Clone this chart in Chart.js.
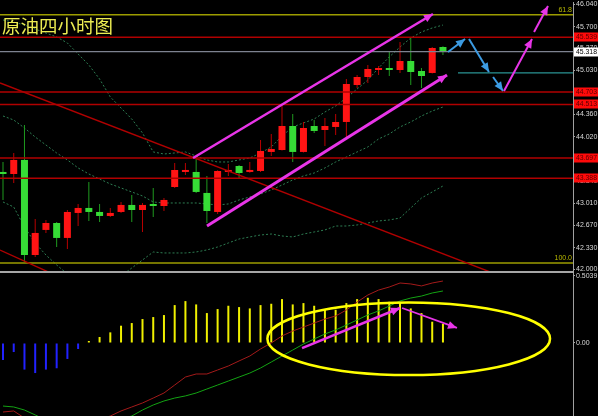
<!DOCTYPE html>
<html>
<head>
<meta charset="utf-8">
<title>原油四小时图</title>
<script src="https://cdn.jsdelivr.net/npm/chart.js@4.4.1/dist/chart.umd.min.js"></script>
<style>
  html, body { margin: 0; padding: 0; background: #000; }
  #wrap { position: relative; width: 598px; height: 416px; overflow: hidden; background: #000; }
  #mainChart { position: absolute; left: 0; top: 0; }
  #subChart { position: absolute; left: 0; top: 273px; }
  #sep { position: absolute; left: 0; top: 271px; width: 574px; height: 2px; background: #a6a6a6; }
</style>
</head>
<body>
<div id="wrap">
  <canvas id="mainChart" width="598" height="272"></canvas>
  <div id="sep"></div>
  <canvas id="subChart" width="598" height="143"></canvas>
</div>
<script>
// 4h crude oil candles, one entry per bar
const opens  = [43.484, 43.453, 43.667, 42.218, 42.600, 42.706, 42.478, 42.859, 42.935, 42.874, 42.813, 42.874, 42.981, 42.904,
                42.981, 42.965, 43.255, 43.484, 43.484, 43.164, 42.874, 43.484, 43.575, 43.484, 43.499, 43.789, 43.819, 44.185,
                43.789, 44.185, 44.124, 44.170, 44.246, 44.810, 44.932, 45.038, 45.054, 45.038, 45.176, 45.023, 44.993, 45.389];
const highs  = [43.636, 43.773, 44.200, 42.767, 42.752, 42.721, 42.904, 42.996, 43.331, 42.996, 42.935, 43.026, 43.133, 43.011,
                43.240, 43.087, 43.621, 43.621, 43.697, 43.423, 43.510, 43.606, 43.590, 43.636, 43.971, 44.063, 44.490, 44.368,
                44.246, 44.276, 44.307, 44.368, 44.901, 44.962, 45.115, 45.099, 45.313, 45.465, 45.526, 45.069, 45.389, 45.400];
const lows   = [43.057, 43.316, 42.112, 42.188, 42.554, 42.340, 42.310, 42.660, 42.737, 42.721, 42.798, 42.859, 42.721, 42.569,
                42.798, 42.889, 43.240, 43.438, 43.164, 42.706, 42.843, 43.423, 43.377, 43.470, 43.484, 43.727, 43.810, 43.636,
                43.780, 44.078, 43.880, 44.048, 44.017, 44.764, 44.840, 44.962, 44.947, 44.993, 44.810, 44.764, 44.985, 45.267];
const closes = [43.453, 43.667, 42.218, 42.554, 42.706, 42.478, 42.874, 42.935, 42.874, 42.813, 42.859, 42.981, 42.904, 42.981,
                42.965, 43.057, 43.514, 43.499, 43.179, 42.889, 43.499, 43.514, 43.468, 43.514, 43.804, 43.834, 44.185, 43.789,
                44.154, 44.109, 44.185, 44.246, 44.825, 44.932, 45.054, 45.054, 45.038, 45.176, 45.008, 44.947, 45.374, 45.318];

// bollinger bands
const bandUpper = [45.801, 45.770, 45.724, 45.663, 45.602, 45.542, 45.450, 45.282, 45.115, 44.901, 44.627, 44.459, 44.291, 44.078,
                   43.789, 43.758, 43.773, 43.789, 43.727, 43.667, 43.636, 43.636, 43.667, 43.697, 43.773, 43.865, 44.032, 44.170,
                   44.231, 44.291, 44.398, 44.490, 44.612, 44.749, 44.886, 45.069, 45.237, 45.389, 45.526, 45.618, 45.679, 45.724];
const bandMid   = [44.337, 44.276, 44.154, 44.017, 43.895, 43.773, 43.667, 43.545, 43.453, 43.377, 43.301, 43.240, 43.179, 43.118,
                   43.026, 43.011, 43.011, 43.011, 43.011, 42.996, 42.981, 42.996, 43.057, 43.103, 43.148, 43.209, 43.285, 43.362,
                   43.423, 43.468, 43.545, 43.636, 43.712, 43.789, 43.865, 43.987, 44.063, 44.170, 44.246, 44.337, 44.413, 44.474];
const bandLower = [43.026, 42.950, 42.645, 42.401, 42.218, 42.066, 41.929, 41.837, 41.776, 41.761, 41.807, 41.898, 42.020, 42.142,
                   42.264, 42.249, 42.249, 42.249, 42.264, 42.295, 42.340, 42.401, 42.462, 42.493, 42.523, 42.538, 42.508, 42.493,
                   42.538, 42.569, 42.600, 42.660, 42.660, 42.676, 42.706, 42.737, 42.752, 42.782, 42.935, 43.087, 43.179, 43.270];

// lower panel: histogram + two signal lines
const macdHist  = [-0.128, -0.068, -0.200, -0.226, -0.200, -0.190, -0.120, -0.045, 0.015, 0.045, 0.080, 0.130, 0.150, 0.180,
                   0.195, 0.210, 0.285, 0.315, 0.290, 0.225, 0.255, 0.280, 0.270, 0.260, 0.285, 0.295, 0.330, 0.290,
                   0.300, 0.280, 0.250, 0.250, 0.300, 0.330, 0.340, 0.330, 0.310, 0.300, 0.260, 0.225, 0.160, 0.145];
const macdRed   = [-0.519, -0.511, -0.564, -0.617, -0.654, -0.669, -0.669, -0.654, -0.624, -0.579, -0.549, -0.511, -0.481, -0.451,
                   -0.414, -0.376, -0.316, -0.256, -0.233, -0.233, -0.203, -0.173, -0.135, -0.098, -0.045, 0.000, 0.053, 0.090,
                   0.120, 0.150, 0.180, 0.203, 0.248, 0.308, 0.361, 0.398, 0.421, 0.451, 0.444, 0.429, 0.451, 0.466];
const macdGreen = [-0.474, -0.481, -0.504, -0.541, -0.579, -0.617, -0.639, -0.654, -0.639, -0.617, -0.594, -0.571, -0.549, -0.504,
                   -0.466, -0.436, -0.414, -0.398, -0.376, -0.346, -0.316, -0.286, -0.256, -0.226, -0.188, -0.143, -0.098, -0.053,
                   -0.008, 0.030, 0.068, 0.098, 0.135, 0.173, 0.211, 0.241, 0.278, 0.316, 0.338, 0.353, 0.376, 0.391];

// axis ticks
const priceTicks = [46.04, 45.70, 45.37, 45.03, 44.70, 44.36, 44.02, 43.69, 43.34, 43.01, 42.67, 42.33, 42.00];
const subTicks = [0.5039, 0];

// horizontal levels: fib 61.8 / 100.0, marked prices
const fibLevels = [45.882, 42.096];
const fibNames = ['61.8', '100.0'];
const redLevels = [45.539, 44.703, 44.513, 43.697, 43.388];
const lastPrice = 45.318;
const tealLevel = 44.995;
const tealStart = 42.4;

// drawn objects, in [bar index, price] pairs
const redTrend1 = [[-0.28, 44.840], [45.5, 41.953]];
const redTrend2 = [[-0.28, 42.293], [4.85, 41.913]];
const channelUpper = [[17.71, 43.697], [40.07, 45.892]];
const channelLower = [[19.01, 42.660], [41.38, 44.962]];
const blueArrows = [
  [[41.47, 45.313], [43.06, 45.511]],
  [[43.43, 45.511], [45.29, 45.008]],
  [[45.67, 44.932], [46.60, 44.718]]
];
const pinkArrows = [
  [[46.69, 44.718], [49.30, 45.511]],
  [[49.49, 45.618], [50.79, 46.014]]
];
const subArrows = [
  [[27.87, -0.038], [37.00, 0.263]],
  [[37.19, 0.263], [42.31, 0.113]]
];
// centre x, centre y, radius x (bars), radius y (value)
const subEllipse = [37.81, 0.032, 13.17, 0.273];

const chartTitle = '原油四小时图';

// ---------------------------------------------------------------
const X_MIN = -0.28, X_MAX = 53.12;
const FONT = '"Liberation Sans", Arial, sans-serif';
const idx = opens.map((_, i) => i);
const up = idx.map(i => closes[i] >= opens[i]);

Chart.defaults.font.family = FONT;

const pts = values => values.map((v, i) => ({ x: i, y: v }));
const seg = pairs => pairs.map(p => ({ x: p[0], y: p[1] }));
const hline = (v, from) => [{ x: from, y: v }, { x: X_MAX, y: v }];

function lineDs(data, color, width, extra) {
  return Object.assign({
    type: 'line', data,
    borderColor: color, backgroundColor: color, borderWidth: width,
    pointRadius: 0, tension: 0, fill: false
  }, extra || {});
}

const arrowHeads = {
  id: 'arrowHeads',
  afterDatasetsDraw(chart) {
    const ctx = chart.ctx;
    chart.data.datasets.forEach((ds, di) => {
      if (!ds.arrow) return;
      const p = chart.getDatasetMeta(di).data;
      const a = p[p.length - 2], b = p[p.length - 1];
      const ang = Math.atan2(b.y - a.y, b.x - a.x);
      const len = 9, w = 4;
      const bx = b.x - len * Math.cos(ang), by = b.y - len * Math.sin(ang);
      ctx.save();
      ctx.fillStyle = ds.borderColor;
      ctx.beginPath();
      ctx.moveTo(b.x, b.y);
      ctx.lineTo(bx + w * Math.sin(ang), by - w * Math.cos(ang));
      ctx.lineTo(bx - w * Math.sin(ang), by + w * Math.cos(ang));
      ctx.closePath();
      ctx.fill();
      ctx.restore();
    });
  }
};

const mainLabels = {
  id: 'mainLabels',
  afterDraw(chart) {
    const { ctx, chartArea, scales: { y } } = chart;
    ctx.save();
    // title
    ctx.font = '18.5px "Noto Sans CJK SC"';
    ctx.fillStyle = '#ecec52';
    ctx.textBaseline = 'middle';
    ctx.textAlign = 'left';
    ctx.fillText(chartTitle, 2, 26);
    // fib names
    ctx.font = '7px ' + FONT;
    ctx.fillStyle = '#b8b800';
    ctx.textAlign = 'right';
    ctx.textBaseline = 'bottom';
    fibLevels.forEach((v, k) => ctx.fillText(fibNames[k], chartArea.right - 1, y.getPixelForValue(v) - 1));
    // price boxes on the axis
    ctx.textAlign = 'left';
    ctx.textBaseline = 'middle';
    const left = chartArea.right + 1;
    const boxes = redLevels.map(v => [v, '#ff0a0a', '#5a0000']).concat([[lastPrice, '#ffffff', '#000000']]);
    boxes.forEach(([v, bg, fg]) => {
      const py = Math.round(y.getPixelForValue(v));
      ctx.fillStyle = bg;
      ctx.fillRect(left, py - 4.5, 25, 9);
      ctx.fillStyle = fg;
      ctx.fillText(v.toFixed(3), left + 2, py + 0.5, 21);
    });
    ctx.restore();
  }
};

const ellipsePlugin = {
  id: 'subEllipse',
  afterDatasetsDraw(chart) {
    const { ctx, scales: { x, y } } = chart;
    const cx = x.getPixelForValue(subEllipse[0]);
    const cy = y.getPixelForValue(subEllipse[1]);
    const rx = Math.abs(x.getPixelForValue(subEllipse[0] + subEllipse[2]) - cx);
    const ry = Math.abs(y.getPixelForValue(subEllipse[1] + subEllipse[3]) - cy);
    ctx.save();
    ctx.strokeStyle = '#ffff00';
    ctx.lineWidth = 2.5;
    ctx.beginPath();
    ctx.ellipse(cx, cy, rx, ry, 0, 0, Math.PI * 2);
    ctx.stroke();
    ctx.restore();
  }
};

function rightAxis(min, max, ticks, fmt) {
  return {
    position: 'right', min, max,
    afterBuildTicks: s => { s.ticks = ticks.map(v => ({ value: v })); },
    afterFit: s => { s.width = 25; s.paddingTop = 0; s.paddingBottom = 0; },
    ticks: { color: '#d8d8d8', font: { size: 7 }, padding: 1, autoSkip: false, callback: fmt },
    grid: { drawOnChartArea: false, tickLength: 2, color: '#a0a0a0' },
    border: { display: true, color: '#a0a0a0', width: 1 }
  };
}

const xAxis = { type: 'linear', min: X_MIN, max: X_MAX, display: false, offset: false, grid: { offset: false } };

const baseOptions = {
  responsive: false,
  devicePixelRatio: 1,
  animation: false,
  events: [],
  plugins: { legend: { display: false }, tooltip: { enabled: false } }
};

const levelColor = '#b00000';
const mainSets = [
  lineDs(pts(bandUpper), '#2d7d52', 1, { borderDash: [2, 2], order: 20 }),
  lineDs(pts(bandMid), '#2d7d52', 1, { borderDash: [2, 2], order: 20 }),
  lineDs(pts(bandLower), '#2d7d52', 1, { borderDash: [2, 2], order: 20 }),
  {
    type: 'bar', order: 15, grouped: false, barThickness: 1, inflateAmount: 0,
    data: idx.map(i => ({ x: i, y: [lows[i], highs[i]] })),
    backgroundColor: idx.map(i => up[i] ? '#b80000' : '#1f9a1f')
  },
  {
    type: 'bar', order: 14, grouped: false, barThickness: 7, minBarLength: 2, inflateAmount: 0,
    data: idx.map(i => ({ x: i, y: [opens[i], closes[i]] })),
    backgroundColor: idx.map(i => up[i] ? '#ff1414' : '#36dc36')
  },
  ...fibLevels.map(v => lineDs(hline(v, X_MIN), '#9c9c00', 1.5, { order: 6 })),
  ...redLevels.map(v => lineDs(hline(v, X_MIN), levelColor, 1.5, { order: 6 })),
  lineDs(hline(lastPrice, X_MIN), '#7d8290', 1.2, { order: 6 }),
  lineDs(hline(tealLevel, tealStart), '#2a9393', 1.2, { order: 6 }),
  lineDs(seg(redTrend1), '#b00000', 1.4, { order: 5 }),
  lineDs(seg(redTrend2), '#b00000', 1.4, { order: 5 }),
  lineDs(seg(channelUpper), '#e835e8', 2.5, { arrow: true, order: 2 }),
  lineDs(seg(channelLower), '#e835e8', 3, { arrow: true, order: 2 }),
  ...blueArrows.map(a => lineDs(seg(a), '#3c9be2', 2, { arrow: true, order: 1 })),
  ...pinkArrows.map(a => lineDs(seg(a), '#e835e8', 2, { arrow: true, order: 1 }))
];

new Chart(document.getElementById('mainChart'), {
  type: 'bar',
  data: { datasets: mainSets },
  options: Object.assign({}, baseOptions, {
    layout: { padding: { top: 2, bottom: 1, left: 0, right: 0 } },
    scales: {
      x: xAxis,
      y: rightAxis(41.974, 46.075, priceTicks, v => v.toFixed(3))
    }
  }),
  plugins: [arrowHeads, mainLabels]
});

const subSets = [
  {
    type: 'bar', order: 10, grouped: false, barThickness: 2, inflateAmount: 0,
    data: pts(macdHist),
    backgroundColor: macdHist.map(v => v < 0 ? '#2222ff' : '#f0f000')
  },
  lineDs(pts(macdRed), '#a41a1a', 1, { order: 5 }),
  lineDs(pts(macdGreen), '#13a313', 1, { order: 4 }),
  lineDs(seg(subArrows[0]), '#e835e8', 2.5, { arrow: true, order: 1 }),
  lineDs(seg(subArrows[1]), '#e835e8', 1.8, { arrow: true, order: 1 })
];

new Chart(document.getElementById('subChart'), {
  type: 'bar',
  data: { datasets: subSets },
  options: Object.assign({}, baseOptions, {
    layout: { padding: 0 },
    scales: {
      x: xAxis,
      y: rightAxis(-0.5489, 0.5263, subTicks, v => v === 0 ? '0.00' : v.toFixed(4))
    }
  }),
  plugins: [ellipsePlugin, arrowHeads]
});
</script>
</body>
</html>
